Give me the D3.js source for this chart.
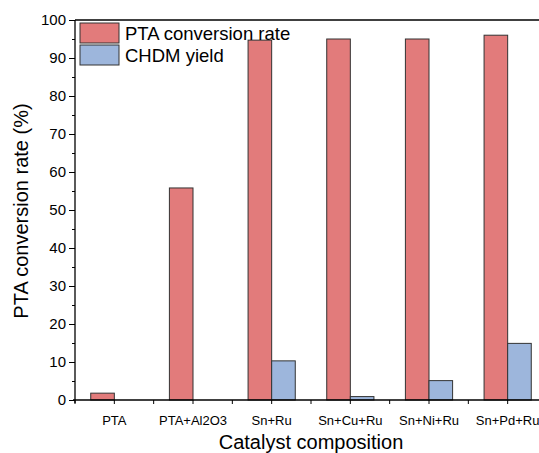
<!DOCTYPE html>
<html><head><meta charset="utf-8">
<script src="https://cdn.jsdelivr.net/npm/d3@7"></script>
<style>body{margin:0;background:#fff}svg{display:block}text{font-family:"Liberation Sans",Arial,sans-serif}</style>
</head><body><svg id="c" width="539" height="453"></svg>
<script>
const categories = ["PTA","PTA+Al2O3","Sn+Ru","Sn+Cu+Ru","Sn+Ni+Ru","Sn+Pd+Ru"];
const conversion = [1.8, 55.8, 94.7, 95.0, 95.0, 96.0];
const yieldVals = [0, 0, 10.3, 0.9, 5.1, 14.9];
const seriesNames = ["PTA conversion rate","CHDM yield"];
const yTicks = [0,10,20,30,40,50,60,70,80,90,100];

const svg = d3.select("#c");
const m = {l:75, t:20, r:547, b:400};
const x = d3.scaleBand().domain(categories).range([m.l, m.r]).padding(0);
const y = d3.scaleLinear().domain([0,100]).range([m.b, m.t]);
const colors = ["#E27B7B","#9DB6DC"];
const bw = x.bandwidth()*0.3;

const g = svg.append("g");
[conversion, yieldVals].forEach((vals, si) => {
  g.selectAll(null).data(categories).enter().append("rect")
    .attr("x", d => x(d) + x.bandwidth()/2 + (si===0 ? -bw : 0))
    .attr("y", (d,i) => y(vals[i]))
    .attr("width", bw)
    .attr("height", (d,i) => y(0) - y(vals[i]))
    .attr("fill", colors[si])
    .attr("stroke", "#333").attr("stroke-width", 1)
    .attr("display", (d,i) => vals[i] > 0 ? null : "none");
});

// y axis
const yAxis = d3.axisLeft(y).tickValues(yTicks).tickSize(6).tickPadding(3);
const ya = svg.append("g").attr("transform", `translate(${m.l},0)`).call(yAxis);
ya.select(".domain").remove();
ya.selectAll("text").attr("font-size", 15).attr("fill", "#000");
const yMinor = d3.axisLeft(y).tickValues(yTicks.slice(0,-1).map(v => v+5)).tickSize(3).tickFormat("");
const ym = svg.append("g").attr("transform", `translate(${m.l},0)`).call(yMinor);
ym.select(".domain").remove();

// x axis
const xAxis = d3.axisBottom(x).tickSize(4).tickPadding(12);
const xa = svg.append("g").attr("transform", `translate(0,${m.b})`).call(xAxis);
xa.select(".domain").remove();
xa.selectAll("text").attr("font-size", 13).attr("fill", "#000");
const bounds = categories.map(c => x(c)).concat([m.r]);
svg.append("g").selectAll("line").data(bounds).enter().append("line")
  .attr("x1", d => d).attr("x2", d => d).attr("y1", m.b).attr("y2", m.b+4)
  .attr("stroke", "#000");

// axis lines / frame
svg.append("line").attr("x1", m.l-2).attr("x2", m.r).attr("y1", m.b).attr("y2", m.b).attr("stroke","#000").attr("stroke-width",1.3);
svg.append("line").attr("x1", m.l).attr("x2", m.l).attr("y1", m.t).attr("y2", m.b+3).attr("stroke","#000").attr("stroke-width",1.3);
svg.append("line").attr("x1", m.l).attr("x2", m.r).attr("y1", m.t).attr("y2", m.t).attr("stroke","#000").attr("stroke-width",1.3);

// labels
svg.append("text").attr("x", (m.l+m.r)/2).attr("y", 449).attr("text-anchor","middle")
  .attr("font-size", 20).text("Catalyst composition");
svg.append("text").attr("transform", `translate(28,${(m.t+m.b)/2 + 1}) rotate(-90)`).attr("text-anchor","middle")
  .attr("font-size", 20).text("PTA conversion rate (%)");

// legend
seriesNames.forEach((n,i) => {
  svg.append("rect").attr("x", 80).attr("y", 23 + i*22).attr("width", 39).attr("height", 20)
    .attr("fill", colors[i]).attr("stroke","#333").attr("stroke-width",1);
  svg.append("text").attr("x", 125).attr("y", 40 + i*22).attr("font-size", 18.5).text(n);
});
</script></body></html>
